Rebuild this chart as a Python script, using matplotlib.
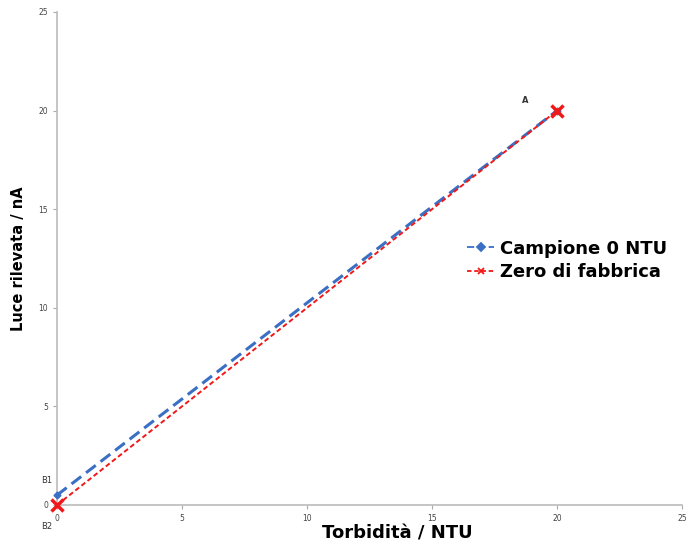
import matplotlib
matplotlib.use("Agg")
import matplotlib.pyplot as plt

x_blue = [0, 20]
y_blue = [0.5, 20]
x_red = [0, 20]
y_red = [0, 20]
ticks = [0, 5, 10, 15, 20, 25]

fig = plt.figure(figsize=(6.89, 5.45), dpi=100)
ax = fig.add_axes([0.0827, 0.0734, 0.9073, 0.9046])

ax.plot(x_blue, y_blue, color="#3a6fc4", lw=2.2, ls=(0, (4, 2)), marker="D", ms=3.5,
        label="Campione 0 NTU", zorder=3, clip_on=False)
ax.plot(x_red, y_red, color="#f01818", lw=1.4, ls=(0, (2.5, 1.5)), marker="x", ms=8, mew=2.5,
        label="Zero di fabbrica", zorder=4, clip_on=False)

ax.set_xlim(0, 25)
ax.set_ylim(0, 25)
ax.set_xticks(ticks)
ax.set_yticks(ticks)
ax.tick_params(labelsize=5.5, labelcolor="#444444", length=3, color="#aaaaaa", width=0.8)
for s in ["top", "right"]:
    ax.spines[s].set_visible(False)
for s in ["left", "bottom"]:
    ax.spines[s].set_color("#bbbbbb")
    ax.spines[s].set_linewidth(1.2)

ax.set_xlabel("Torbidità / NTU", fontsize=13, fontweight="bold", family="DejaVu Sans", labelpad=2)
ax.xaxis.set_label_coords(0.545, -0.04)
ax.set_ylabel("Luce rilevata / nA", fontsize=10.5, fontweight="bold", family="DejaVu Sans", labelpad=2)
ax.yaxis.set_label_coords(-0.05, 0.5)

ax.text(18.6, 20.4, "A", fontsize=6, color="#333333", fontweight="bold")
ax.text(-0.65, 1.1, "B1", fontsize=6, color="#333333")
ax.text(-0.65, -1.2, "B2", fontsize=6, color="#333333", clip_on=False)

leg = ax.legend(loc="upper left", bbox_to_anchor=(0.645, 0.553), frameon=False,
                prop={"family": "DejaVu Sans", "weight": "bold", "size": 13},
                handlelength=1.5, handletextpad=0.3, labelspacing=0.3, borderaxespad=0)
for h in leg.legend_handles:
    h.set_linewidth(1.3)
    h.set_markersize(4)
    h.set_markeredgewidth(1.3)

fig.savefig("out.png", dpi=100)
